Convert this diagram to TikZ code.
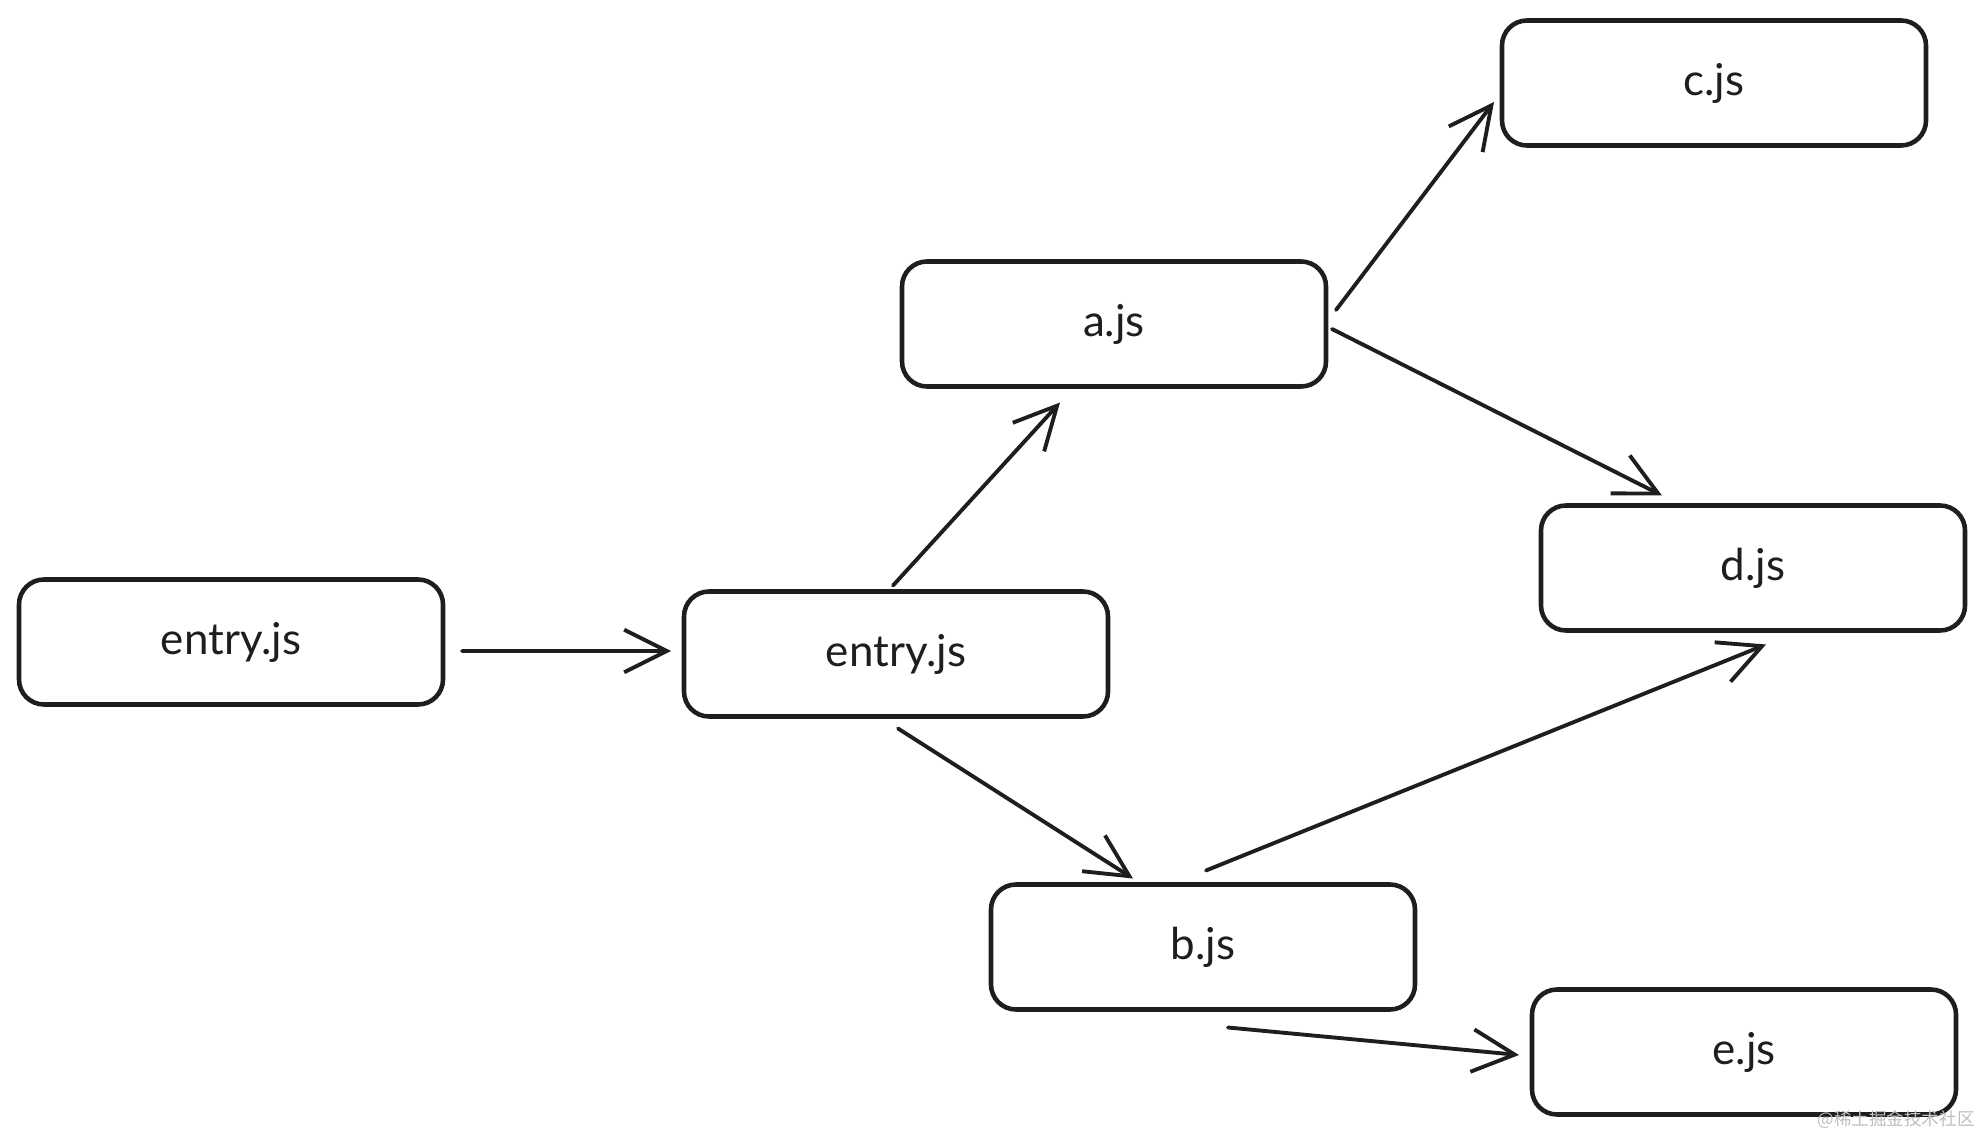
\documentclass[tikz,border=0pt]{standalone}
\usepackage{fontspec}
\setmainfont{Lato}
\newfontfamily\cjkfont{Noto Sans CJK SC}
\usepackage{tikz}
\usetikzlibrary{arrows.meta, positioning}
\definecolor{SketchInk}{RGB}{30,30,30}
\definecolor{MarkGray}{RGB}{190,190,190}

\begin{document}
\begin{tikzpicture}[
    modbox/.style={rectangle, rounded corners=0.5cm, draw=SketchInk, line width=2.6pt, outer sep=0pt, minimum width=8.48cm, minimum height=2.5cm, inner sep=0pt, font=\fontsize{25}{30}\selectfont, text=SketchInk},
    dep/.style={-{Straight Barb[length=0.85cm, width=0.85cm, line width=2.2pt]}, line width=2.2pt, draw=SketchInk, line cap=round}
]
\useasboundingbox (0,0) rectangle (39.7,22.74);

\node[modbox] at (4.62,9.90) (entryA) {entry.js};
\node[modbox, right=4.82cm of entryA, yshift=-0.24cm] (entryB) {entry.js};
\node[modbox, above=4.1cm of entryB, xshift=4.36cm] (modA) {a.js};
\node[modbox, below=3.36cm of entryB, xshift=6.14cm] (modB) {b.js};
\node[modbox, right=3.52cm of modA, yshift=4.82cm] (modC) {c.js};
\node[modbox, right=4.3cm of modA, yshift=-4.88cm] (modD) {d.js};
\node[modbox, right=2.34cm of modB, yshift=-2.1cm] (modE) {e.js};

\draw[dep] ([xshift=0.38cm, yshift=-0.18cm]entryA.east) -- ([xshift=-0.26cm, yshift=0.06cm]entryB.west);
\draw[dep] ([xshift=-0.06cm, yshift=0.12cm]entryB.north) -- ([xshift=-1.08cm, yshift=-0.32cm]modA.south);
\draw[dep] ([xshift=0.04cm, yshift=-0.24cm]entryB.south) -- ([xshift=-1.4cm, yshift=0.12cm]modB.north);
\draw[dep] ([xshift=0.2cm, yshift=0.28cm]modA.east) -- ([xshift=-0.16cm, yshift=-0.38cm]modC.west);
\draw[dep] ([xshift=0.12cm, yshift=-0.1cm]modA.east) -- ([xshift=-1.82cm, yshift=0.2cm]modD.north);
\draw[dep] ([xshift=0.06cm, yshift=0.28cm]modB.north) -- ([xshift=0.26cm, yshift=-0.28cm]modD.south);
\draw[dep] ([xshift=0.5cm, yshift=-0.36cm]modB.south) -- ([xshift=-0.26cm, yshift=-0.06cm]modE.west);

% watermark
\node[anchor=east, text=MarkGray, font=\cjkfont\fontsize{10}{12}\selectfont, inner sep=0pt] (wmark) at (39.5,0.34) {@稀土掘金技术社区};
\end{tikzpicture}
\end{document}
